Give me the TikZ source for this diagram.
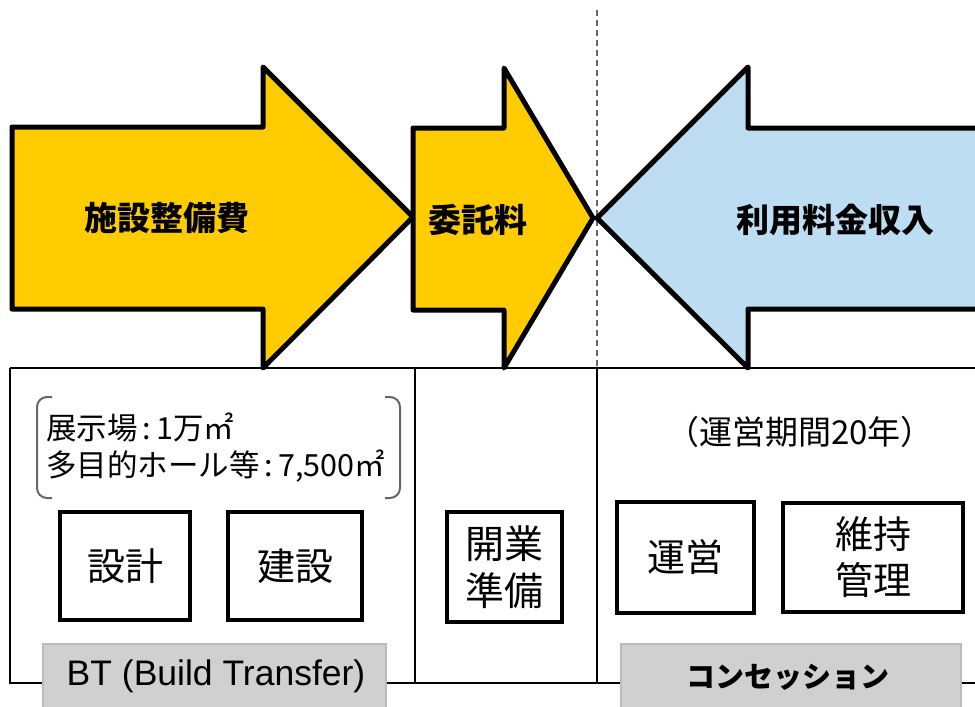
\documentclass[tikz,border=0pt]{standalone}
\usepackage{fontspec}
\setmainfont{Noto Sans CJK JP}
\newfontfamily\lat{Liberation Sans}
\definecolor{yel}{HTML}{FFCC00}
\definecolor{lblue}{HTML}{BDDDF3}
\definecolor{gbox}{HTML}{D0D0D0}
\definecolor{gline}{HTML}{BBBBBB}
\tikzset{
  arrowshape/.style={draw=black, line width=5pt, line join=round},
  arrowlabel/.style={font=\fontsize{33}{38}\bfseries\selectfont, inner sep=0pt},
  frameline/.style={draw=black, line width=2pt},
  taskbox/.style={draw=black, line width=4.5pt, fill=white, inner sep=0pt, align=center,
                  font=\fontsize{38}{46}\selectfont},
  graybox/.style={draw=gline, line width=1.5pt, fill=gbox, inner sep=0pt, anchor=north west},
  plaintext/.style={inner sep=0pt, align=left},
}
\begin{document}
\begin{tikzpicture}[x=1pt,y=-1pt]
\useasboundingbox (0,0) rectangle (975,707);
\clip (0,0) rectangle (975,707);
% dashed divider
\draw[draw=black!60, line width=1.8pt, dash pattern=on 6pt off 4pt] (597,10) -- (597,368);
% frame
\draw[frameline] (10,368) -- (980,368);
\draw[frameline] (10,368) -- (10,683) -- (980,683);
\draw[frameline] (415,368) -- (415,683);
\draw[frameline] (597,368) -- (597,683);
% arrows
\draw[arrowshape, fill=yel] (12,127) -- (263,127) -- (263,67) -- (413,217) -- (263,368) -- (263,309) -- (12,309) -- cycle;
\draw[arrowshape, fill=yel] (413,128) -- (504,128) -- (504,68) -- (593,218) -- (504,368) -- (504,310) -- (413,310) -- cycle;
\draw[arrowshape, fill=lblue] (1000,128) -- (748,128) -- (748,67) -- (597,218) -- (748,368) -- (748,309) -- (1000,309);
\node[arrowlabel] (a1) at (167,218) {施設整備費};
\node[arrowlabel] (a2) at (478,220) {委託料};
\node[arrowlabel] (a3) at (835,220) {利用料金収入};
% bracket
\draw[draw=black!60, line width=2pt] (52,397) -- (47,397) arc[start angle=90, end angle=180, radius=10pt] -- (37,488) arc[start angle=180, end angle=270, radius=10pt] -- (52,498);
\draw[draw=black!60, line width=2pt] (385,397) -- (390,397) arc[start angle=90, end angle=0, radius=10pt] -- (400,488) arc[start angle=0, end angle=-90, radius=10pt] -- (385,498);
\node[plaintext, anchor=west, font=\fontsize{30.5}{37}\selectfont] (spec) at (46,448) {展示場\,:\,1万㎡\\多目的ホール等\,:\,7,500㎡};
% task boxes
\node[taskbox, minimum width=130pt, minimum height=108pt] (sekkei) at (125,566) {設計};
\node[taskbox, minimum width=134pt, minimum height=108pt] (kensetsu) at (295,566) {建設};
\node[taskbox, minimum width=115pt, minimum height=110pt, font=\fontsize{39}{47}\selectfont] (kaigyo) at (504.5,567) {開業\\準備};
\node[taskbox, minimum width=137pt, minimum height=111pt] (unei) at (685.5,557.5) {運営};
\node[taskbox, minimum width=180pt, minimum height=109pt, font=\fontsize{38}{46}\selectfont] (iji) at (873,557.5) {維持\\管理};
\node[plaintext, font=\fontsize{33}{36}\selectfont] (period) at (800,432) {（運営期間20年）};
% gray label boxes
\node[graybox, minimum width=343pt, minimum height=80pt] (btbox) at (42,643) {};
\node[graybox, minimum width=340pt, minimum height=80pt] (cbox) at (620,643) {};
\node[plaintext, font=\lat\fontsize{35.5}{40}\selectfont] (btlabel) at (216,676) {BT (Build Transfer)};
\node[plaintext, font=\fontsize{29}{34}\bfseries\selectfont] (clabel) at (788,677) {コンセッション};
\end{tikzpicture}
\end{document}
